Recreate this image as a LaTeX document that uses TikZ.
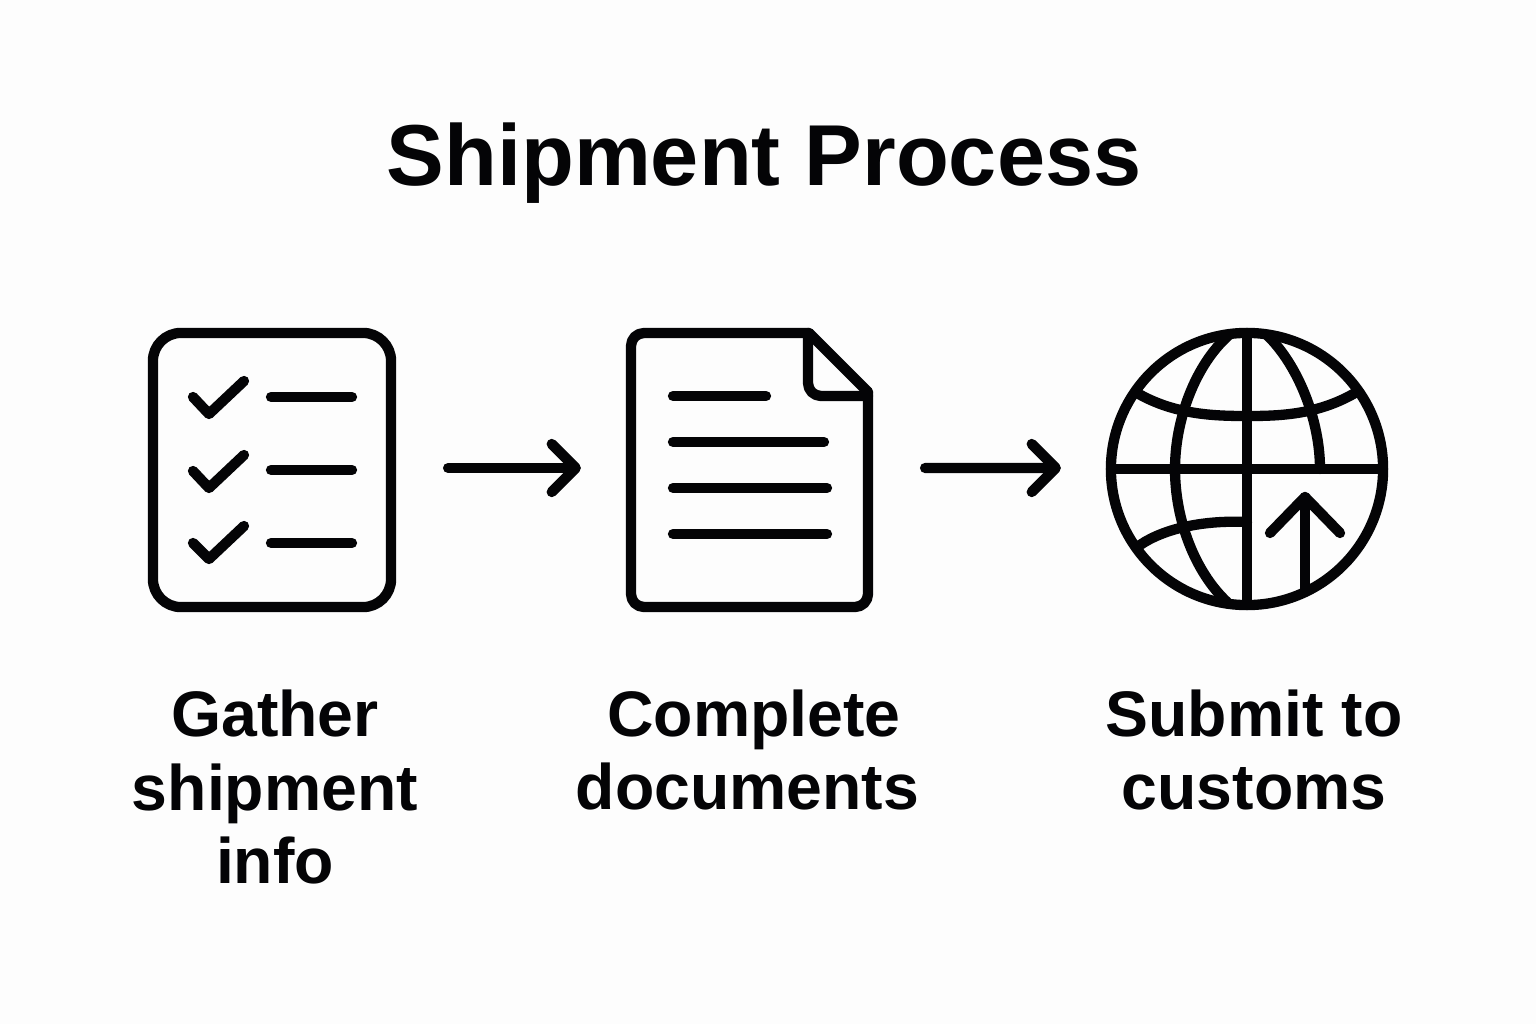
\documentclass[tikz,border=0pt]{standalone}
\usepackage{fontspec}
\setmainfont{Liberation Sans}
\usetikzlibrary{arrows.meta}
\definecolor{ink}{HTML}{040406}
\definecolor{paper}{HTML}{FDFDFD}

\begin{document}
\begin{tikzpicture}[x=0.01cm, y=-0.01cm, color=ink,
    icon/.style={line width=1.03mm, line join=round, line cap=round},
    flow/.style={icon, -{Straight Barb[length=2.4mm, width=4.8mm, round]}, shorten <=0.57cm, shorten >=0.5cm},
    caption/.style={align=center, font=\bfseries\fontsize{18.3}{21}\selectfont},
    shell/.style={icon, draw, inner sep=0pt, outer sep=0pt}]

    \fill[paper] (0,0) rectangle (1536,1024);

    \node[font=\bfseries\fontsize{24.6}{29}\selectfont] (title) at (764,163) {Shipment Process};

    \node[shell, rounded corners=2.8mm, minimum width=2.38cm, minimum height=2.74cm] (checklist) at (272,470) {};
    \draw[icon] (193,397) -- (209,414) -- (244,381);
    \draw[icon] (271,397) -- (352,397);
    \draw[icon] (193,471) -- (209,488) -- (244,455);
    \draw[icon] (271,470) -- (352,470);
    \draw[icon] (193,543) -- (209,559) -- (244,526);
    \draw[icon] (271,543) -- (352,543);

    \node[inner sep=0pt, outer sep=0pt, minimum width=2.37cm, minimum height=2.74cm] (docpage) at (749.5,470) {};
    \draw[icon, rounded corners=1.3mm] (809,333) -- (631,333) -- (631,607) -- (868,607) -- (868,392);
    \draw[icon] (809,333) -- (868,392);
    \draw[icon, rounded corners=1.3mm] (808,333) -- (808,396) -- (868,396);
    \draw[icon] (673,396) -- (766,396);
    \draw[icon] (673,442) -- (824,442);
    \draw[icon] (673,488) -- (827,488);
    \draw[icon] (673,534) -- (827,534);

    \node[shell, circle, minimum size=2.72cm] (globe) at (1247,469) {};
    \draw[icon] (globe.north) -- (globe.south);
    \draw[icon] (globe.west) -- (globe.east);
    \draw[icon] (1229,335) .. controls (1195,365) and (1175,420) .. (1175,469)
        .. controls (1175,520) and (1195,572) .. (1227,602);
    \draw[icon] (1267,335) .. controls (1298,365) and (1320,420) .. (1320,469);
    \draw[icon] (1137,393) .. controls (1175,415) and (1215,416) .. (1247,416)
        .. controls (1279,416) and (1317,415) .. (1355,393);
    \draw[icon] (1140,545) .. controls (1165,528) and (1205,520) .. (1247,522);
    \draw[icon] (1305,592) -- (1305,497);
    \draw[icon] (1270,533) -- (1305,497) -- (1340,533);

    \draw[flow] ([yshift=0.02cm]checklist.east) -- ([yshift=0.02cm]docpage.west);
    \draw[flow] ([yshift=0.02cm]docpage.east) -- ([yshift=0.01cm]globe.west);

    \node[caption] (gather) at (275,787) {Gather\\shipment\\info};
    \node[caption] (complete) at (747.5,750) {\hspace*{0.13cm}Complete\\documents};
    \node[caption] (submit) at (1254,750) {Submit to\\customs};
\end{tikzpicture}
\end{document}
